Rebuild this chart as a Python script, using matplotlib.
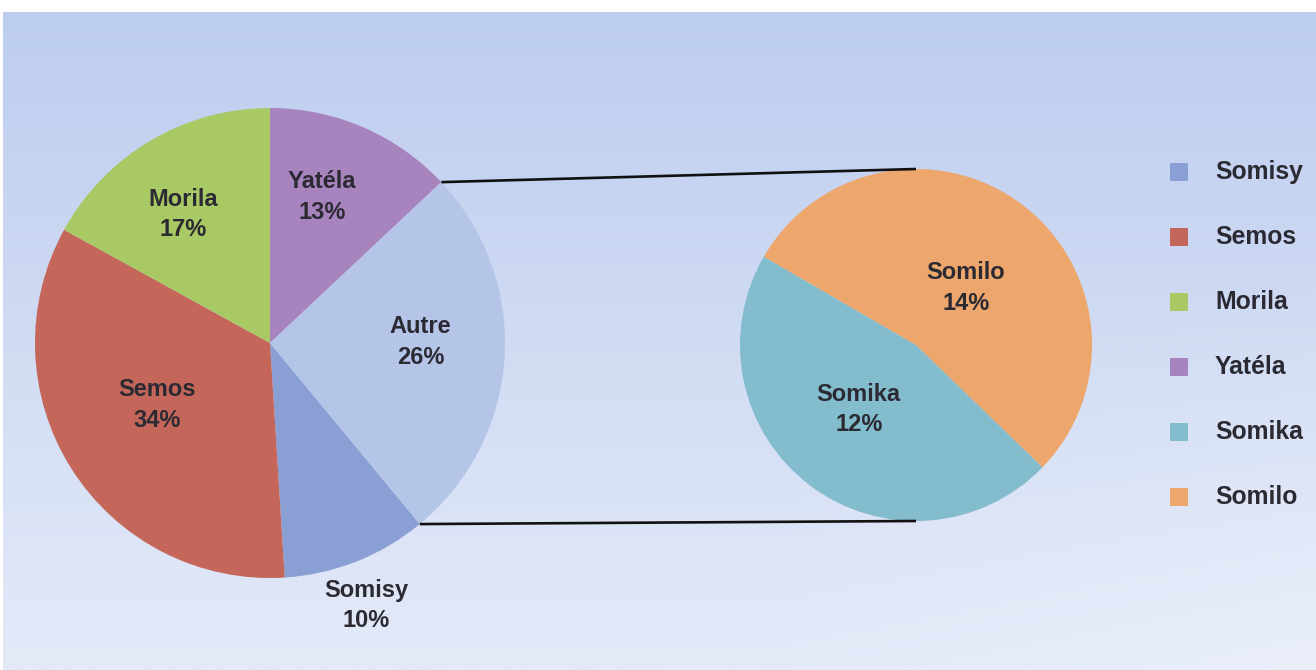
import numpy as np
import matplotlib
matplotlib.use("Agg")
import matplotlib.pyplot as plt

# ---- data ----
main_labels = ["Somisy", "Semos", "Morila", "Yatéla", "Autre"]
main_values = [10, 34, 17, 13, 26]
main_colors = ["#8A9FD4", "#C46659", "#A9C965", "#A884BF", "#B5C5E8"]

sub_labels = ["Somika", "Somilo"]
sub_values = [12, 14]
sub_colors = ["#82BCCD", "#EDA76C"]

legend_labels = ["Somisy", "Semos", "Morila", "Yatéla", "Somika", "Somilo"]

# label placement (fraction of radius, angular offset in degrees)
main_label_dist = [1.19, 0.55, 0.66, 0.66, 0.64]
main_label_dang = [-1.5, -3.7, 3.4, 3.8, 4.0]
sub_label_dist = [0.49, 0.43]
sub_label_dang = [-4.5, -4]

W, H = 1316, 670
fig = plt.figure(figsize=(W / 100, H / 100), dpi=100)
fig.patch.set_facecolor("white")

# background gradient
bg = fig.add_axes([0, 0, 1, 1])
bg.set_axis_off()
ny, nx = 200, 400
yy, xx = np.mgrid[0:1:ny * 1j, 0:1:nx * 1j]
top = np.array([189, 205, 239]) / 255
bot = np.array([228, 234, 248]) / 255
img = top[None, None, :] * (1 - yy[..., None]) + bot[None, None, :] * yy[..., None]
light = np.clip((xx - 0.6) * 1.5, 0, 1) * np.clip((yy - 0.4) * 1.6, 0, 1)
img = img * (1 - 0.6 * light[..., None]) + np.array([244, 247, 253]) / 255 * 0.6 * light[..., None]
bg.imshow(img, extent=[3, W, H, 12], aspect="auto", interpolation="bilinear")
bg.set_xlim(0, W)
bg.set_ylim(H, 0)

ax = fig.add_axes([0, 0, 1, 1])
ax.set_axis_off()
ax.patch.set_alpha(0)

font = "Liberation Sans"
tcol = "#2B2A33"

# main pie
c1 = (270, H - 343)
r1 = 235
start1 = 90 - (main_values[3] + main_values[4]) / sum(main_values) * 360
w1, _ = ax.pie(main_values, colors=main_colors, startangle=start1, counterclock=False,
               center=c1, radius=r1, wedgeprops=dict(linewidth=0))
for w, lab, v, d, da in zip(w1, main_labels, main_values, main_label_dist, main_label_dang):
    mid = np.deg2rad((w.theta1 + w.theta2) / 2 + da)
    ax.text(c1[0] + d * r1 * np.cos(mid), c1[1] + d * r1 * np.sin(mid),
            f"{lab}\n{v}%", ha="center", va="center", fontsize=17, fontweight="bold",
            family=font, color=tcol, linespacing=1.42)

# sub pie
c2 = (916, H - 345)
r2 = 176
w2, _ = ax.pie(sub_values, colors=sub_colors, startangle=-44, counterclock=False,
               center=c2, radius=r2, wedgeprops=dict(linewidth=0))
for w, lab, v, d, da in zip(w2, sub_labels, sub_values, sub_label_dist, sub_label_dang):
    mid = np.deg2rad((w.theta1 + w.theta2) / 2 + da)
    ax.text(c2[0] + d * r2 * np.cos(mid), c2[1] + d * r2 * np.sin(mid),
            f"{lab}\n{v}%", ha="center", va="center", fontsize=17, fontweight="bold",
            family=font, color=tcol, linespacing=1.42)

# connector lines from "Autre" wedge edges to top/bottom of sub pie
autre = w1[4]
for ang, yend in [(autre.theta2, c2[1] + r2), (autre.theta1, c2[1] - r2)]:
    a = np.deg2rad(ang)
    ax.plot([c1[0] + r1 * np.cos(a), c2[0]], [c1[1] + r1 * np.sin(a), yend],
            color="#111111", lw=1.9, solid_capstyle="butt")

# legend
color_map = dict(zip(main_labels + sub_labels, main_colors + sub_colors))
for i, lab in enumerate(legend_labels):
    y = H - (172 + i * 65)
    ax.scatter([1179], [y], marker="s", s=165, color=color_map[lab], linewidths=0)
    ax.text(1215, y, lab, ha="left", va="center", fontsize=17.8, fontweight="bold",
            family=font, color=tcol)

ax.set_xlim(0, W)
ax.set_ylim(0, H)
ax.set_aspect("auto")

fig.savefig("out.png", dpi=100)
